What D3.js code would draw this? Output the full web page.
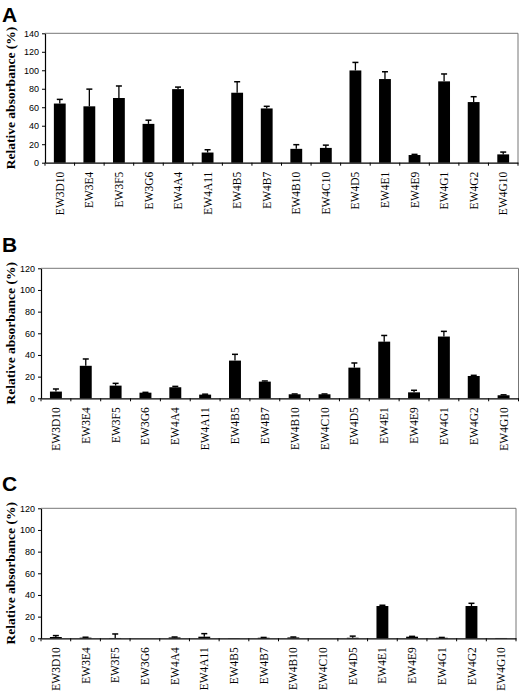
<!DOCTYPE html>
<html><head><meta charset="utf-8">
<script src="https://cdn.jsdelivr.net/npm/d3@7"></script>
<style>body{margin:0;background:#fff}svg{display:block}</style>
</head><body>
<script>
const categories = ["EW3D10","EW3E4","EW3F5","EW3G6","EW4A4","EW4A11","EW4B5","EW4B7","EW4B10","EW4C10","EW4D5","EW4E1","EW4E9","EW4G1","EW4G2","EW4G10"];
const valuesA = [64,61,70,42,79.6,11,75.7,58.7,15,16,99.8,90.5,8.3,88,65.6,9];
const errorsA = [68.5,79.6,83,46,81.8,14,87.6,61,19.5,19,108.5,98.4,9,96,71.4,11.5];
const valuesB = [6.2,30,11.7,5.2,10.2,3.4,34.8,15.4,3.7,3.7,28.3,52.3,5.5,57,20.6,2.8];
const errorsB = [8.6,36.3,13.8,5.5,11,3.8,40.6,16,4,4,32.6,58,7.4,61.8,21.2,3.2];
const valuesC = [1.2,0.6,0.3,0,0.8,1.5,0.2,0.5,0.8,0,0.5,29.8,1.5,0.5,29.8,0.3];
const errorsC = [2.5,1,4,0,1.2,4.3,0.2,0.8,1.2,0,2,30.5,1.8,0.8,32.3,0.3];
const ticksA = [0,20,40,60,80,100,120,140];
const ticksBC = [0,20,40,60,80,100,120];
const yTitle = "Relative absorbance (%)";

const svg = d3.select("body").append("svg").attr("width",520).attr("height",695);

function panel(letter, vals, errs, ticks, ymax, box, letterY){
  const x = d3.scaleBand().domain(categories).range([box.left, box.right]).paddingInner(0).paddingOuter(0);
  const y = d3.scaleLinear().domain([0,ymax]).range([box.bottom, box.top]);
  const g = svg.append("g");
  g.append("path").attr("d",`M${box.left},${box.top}H${box.right}V${box.bottom}`)
    .attr("fill","none").attr("stroke","#777").attr("stroke-width",1);
  const bw = x.bandwidth()*0.4;
  g.selectAll("rect.bar").data(categories).join("rect")
    .attr("x",d=>x(d)+x.bandwidth()/2-bw/2)
    .attr("width",bw)
    .attr("y",(d,i)=>y(vals[i]))
    .attr("height",(d,i)=>y(0)-y(vals[i]))
    .attr("fill","#000");
  const eb = g.selectAll("g.err").data(categories).join("g")
    .filter((d,i)=>errs[i]>vals[i]+0.2);
  eb.append("line")
    .attr("x1",d=>x(d)+x.bandwidth()/2).attr("x2",d=>x(d)+x.bandwidth()/2)
    .attr("y1",d=>y(vals[categories.indexOf(d)])).attr("y2",d=>y(errs[categories.indexOf(d)]))
    .attr("stroke","#000").attr("stroke-width",1.3);
  eb.append("line")
    .attr("x1",d=>x(d)+x.bandwidth()/2-3).attr("x2",d=>x(d)+x.bandwidth()/2+3)
    .attr("y1",d=>y(errs[categories.indexOf(d)])).attr("y2",d=>y(errs[categories.indexOf(d)]))
    .attr("stroke","#000").attr("stroke-width",1.5);
  const ya = g.append("g").attr("transform",`translate(${box.left},0)`)
    .call(d3.axisLeft(y).tickValues(ticks).tickSize(3).tickPadding(3).tickSizeOuter(0));
  ya.select(".domain").attr("stroke","#000").attr("stroke-width",1.2);
  ya.selectAll("text").attr("font-family","Liberation Sans, Arial, sans-serif").attr("font-size",9).attr("fill","#000");
  const xa = g.append("g").attr("transform",`translate(0,${box.bottom})`)
    .call(d3.axisBottom(x).tickSize(0).tickSizeOuter(0));
  xa.select(".domain").attr("stroke","#000").attr("stroke-width",1.2);
  xa.selectAll("text")
    .attr("font-family","Liberation Serif, Times New Roman, serif").attr("font-size",11.5).attr("fill","#000")
    .attr("transform","rotate(-90)").attr("text-anchor","end").attr("dy","0.35em").attr("x",-9).attr("y",0);
  g.selectAll("line.bt").data(categories).join("line")
    .attr("x1",d=>x(d)).attr("x2",d=>x(d)).attr("y1",box.bottom).attr("y2",box.bottom+3)
    .attr("stroke","#000").attr("stroke-width",1);
  g.append("line").attr("x1",box.right).attr("x2",box.right).attr("y1",box.bottom).attr("y2",box.bottom+3)
    .attr("stroke","#000");
  g.append("text").attr("transform",`translate(${box.titleX},${(box.top+box.bottom)/2}) rotate(-90)`)
    .attr("text-anchor","middle").attr("dy","0.35em")
    .attr("font-family","Liberation Serif, Times New Roman, serif").attr("font-weight","bold").attr("font-size",13.5)
    .text(yTitle);
  g.append("text").attr("x",2).attr("y",letterY)
    .attr("font-family","Liberation Sans, Arial, sans-serif").attr("font-weight","bold").attr("font-size",21)
    .text(letter);
}

panel("A", valuesA, errorsA, ticksA, 140, {left:45, right:518, top:33.3, bottom:162.7, titleX:10}, 22);
panel("B", valuesB, errorsB, ticksBC, 120, {left:41, right:518.5, top:268.3, bottom:398.3, titleX:10}, 252);
panel("C", valuesC, errorsC, ticksBC, 120, {left:41, right:516, top:508.3, bottom:638.3, titleX:10}, 491);
</script>
</body></html>
